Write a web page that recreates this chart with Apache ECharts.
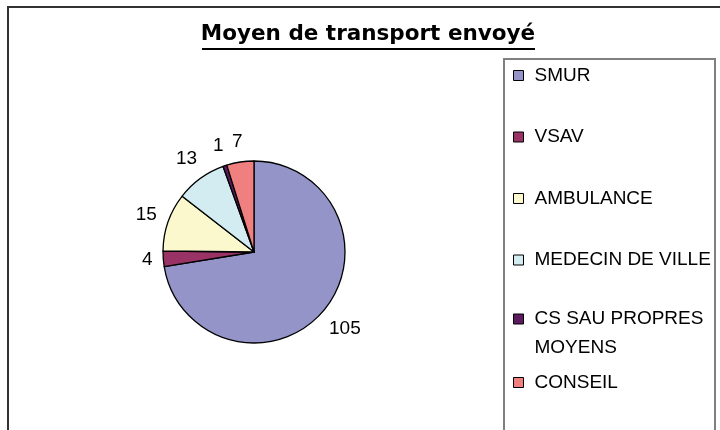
<!DOCTYPE html>
<html>
<head>
<meta charset="utf-8">
<script src="https://cdn.jsdelivr.net/npm/echarts@6/dist/echarts.min.js"></script>
<style>
  html, body { margin: 0; padding: 0; background: #fff; }
  #mychart { width: 720px; height: 430px; }
</style>
</head>
<body>
<div id="mychart"></div>
<script>
// donnees
var categories = ['SMUR', 'VSAV', 'AMBULANCE', 'MEDECIN DE VILLE', 'CS SAU PROPRES MOYENS', 'CONSEIL'];
var legendLabels = ['SMUR', 'VSAV', 'AMBULANCE', 'MEDECIN DE VILLE', 'CS SAU PROPRES\nMOYENS', 'CONSEIL'];
var values = [105, 4, 15, 13, 1, 7];
var colors = ['#9494c8', '#993366', '#faf8cc', '#d2ecf2', '#5e1a5e', '#f08080'];

var mychart = echarts.init(document.getElementById('mychart'));

var pieData = categories.map(function (name, i) {
    return {value: values[i], name: name};
});

// trois blocs de legende : les 4 premiers, le libelle sur 2 lignes, le dernier
function makeLegend(names, top, textPadding) {
    return {
        orient: 'vertical',
        left: 513,
        top: top,
        padding: 0,
        itemGap: 42.5,
        itemWidth: 10,
        itemHeight: 10,
        icon: 'rect',
        selectedMode: false,
        itemStyle: {borderColor: '#000', borderWidth: 1},
        data: names,
        formatter: function (name) {
            var lbl = legendLabels[categories.indexOf(name)];
            return lbl.split('\n').map(function (l) {
                return '{n|' + l + '}';
            }).join('\n');
        },
        textStyle: {
            padding: textPadding,
            rich: {
                n: {
                    fontFamily: 'Liberation Sans',
                    fontSize: 19,
                    lineHeight: 29,
                    color: '#000'
                }
            }
        }
    };
}

var option = {
    animation: false,
    color: colors,
    title: {
        text: 'Moyen de transport envoyé',
        left: 368,
        top: 22,
        textAlign: 'center',
        padding: 0,
        textStyle: {
            fontFamily: 'DejaVu Sans',
            fontWeight: 'bold',
            fontSize: 21.5,
            lineHeight: 24,
            color: '#000'
        }
    },
    legend: [
        makeLegend(categories.slice(0, 4), 66, [0, 0, 0, 6]),
        makeLegend(categories.slice(4, 5), 309.5, [29, 0, 0, 6]),
        makeLegend(categories.slice(5), 373, [0, 0, 0, 6])
    ],
    graphic: [
        {
            type: 'rect',
            shape: {x: 8, y: 7, width: 730, height: 440},
            style: {fill: 'none', stroke: '#333', lineWidth: 2},
            silent: true
        },
        {
            type: 'rect',
            shape: {x: 504, y: 59, width: 211, height: 400},
            style: {fill: 'none', stroke: '#808080', lineWidth: 2},
            silent: true
        },
        {
            type: 'rect',
            shape: {x: 202, y: 48, width: 333, height: 2},
            style: {fill: '#000'},
            silent: true
        }
    ],
    series: [
        {
            type: 'pie',
            center: [254, 252],
            radius: 91,
            startAngle: 90,
            clockwise: true,
            avoidLabelOverlap: false,
            itemStyle: {borderColor: '#000', borderWidth: 1.3},
            emphasis: {disabled: true},
            label: {
                show: true,
                position: 'outside',
                formatter: '{c}',
                fontFamily: 'Liberation Sans',
                fontSize: 19,
                color: '#000'
            },
            labelLine: {
                show: true,
                length: 10,
                length2: 0,
                lineStyle: {opacity: 0}
            },
            labelLayout: function (p) {
                var pts = p.labelLinePoints;
                if (!pts || pts.length < 2) {
                    return {};
                }
                var dx = pts[1][0] - pts[0][0];
                var dy = pts[1][1] - pts[0][1];
                var len = Math.sqrt(dx * dx + dy * dy) || 1;
                dx /= len;
                dy /= len;
                var w = p.labelRect.width;
                var h = p.labelRect.height;
                var d = 10 + Math.abs(dx) * w / 2 + Math.abs(dy) * h / 2;
                return {
                    x: pts[0][0] + dx * d,
                    y: pts[0][1] + dy * d,
                    align: 'center',
                    verticalAlign: 'middle'
                };
            },
            data: pieData
        }
    ]
};
mychart.setOption(option);
</script>
</body>
</html>
